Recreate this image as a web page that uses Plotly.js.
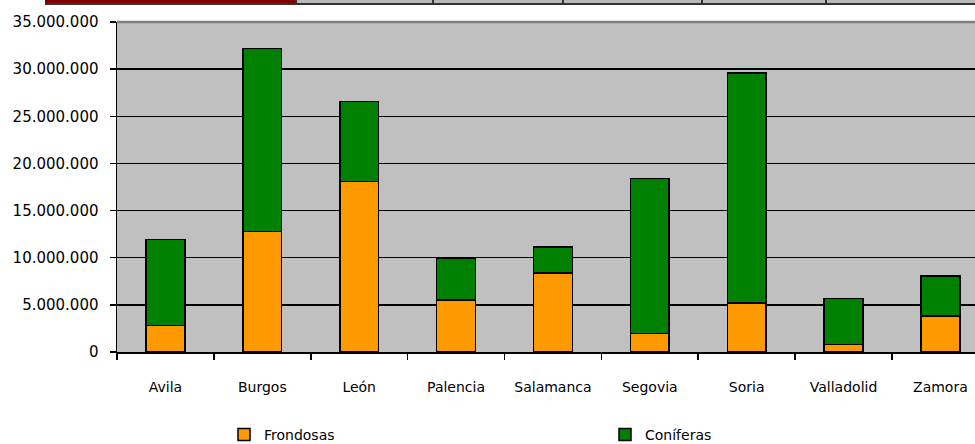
<!DOCTYPE html>
<html>
<head>
<meta charset="utf-8">
<script src="https://cdn.plot.ly/plotly-3.0.1.min.js"></script>
<style>html,body{margin:0;padding:0;background:#fff;}#chart{width:975px;height:444px;}</style>
</head>
<body>
<div id="chart"></div>
<script>
// ---- data ----
const provincias = ["Avila", "Burgos", "León", "Palencia", "Salamanca", "Segovia", "Soria", "Valladolid", "Zamora"];
const frondosas = [2790000, 12800000, 18100000, 5510000, 8400000, 1940000, 5200000, 770000, 3820000];
const coniferas = [9160000, 19370000, 8490000, 4430000, 2740000, 16480000, 24400000, 4920000, 4240000];
const yTicks = [0, 5000000, 10000000, 15000000, 20000000, 25000000, 30000000, 35000000];

// ---- layout helpers (pixel -> paper) ----
const W = 975, H = 444, ML = 117, MR = 0, MT = 22, MB = 92;
const PW = W - ML - MR, PH = H - MT - MB;
const xp = px => (px - ML) / PW;
const yp = py => (H - MB - py) / PH;

const font = "DejaVu Sans, Verdana, sans-serif";

const traces = [
  {type: "bar", name: "Frondosas", x: provincias, y: frondosas, legend: "legend",
   marker: {color: "#FF9900", line: {color: "#000000", width: 1.5}}},
  {type: "bar", name: "Coníferas", x: provincias, y: coniferas, legend: "legend2",
   marker: {color: "#008000", line: {color: "#000000", width: 1.5}}}
];

const shapes = [
  // top strip remnants
  {type: "rect", xref: "paper", yref: "paper", x0: xp(45), x1: xp(296), y0: yp(3.5), y1: yp(0), fillcolor: "#800000", line: {width: 0}},
  {type: "rect", xref: "paper", yref: "paper", x0: xp(296), x1: xp(975), y0: yp(3.5), y1: yp(0), fillcolor: "#B8B8B8", line: {width: 0}},
  {type: "line", xref: "paper", yref: "paper", x0: xp(45), x1: xp(975), y0: yp(4), y1: yp(4), line: {color: "#333333", width: 2}},
  // plot top border
  {type: "line", xref: "paper", yref: "paper", x0: 0, x1: 1, y0: 1, y1: 1, line: {color: "#808080", width: 2.5}}
];
[296, 433, 563, 702, 826].forEach(px => shapes.push(
  {type: "line", xref: "paper", yref: "paper", x0: xp(px), x1: xp(px), y0: yp(4), y1: yp(0), line: {color: "#333333", width: 2}}));

const legendBase = {
  orientation: "h",
  xanchor: "left",
  yanchor: "middle",
  y: yp(435),
  bgcolor: "rgba(0,0,0,0)",
  font: {family: font, size: 14, color: "#000000"}
};

const layout = {
  width: W, height: H,
  margin: {l: ML, r: MR, t: MT, b: MB, pad: 0, autoexpand: false},
  paper_bgcolor: "#FFFFFF",
  plot_bgcolor: "#C0C0C0",
  separators: ",.",
  barmode: "stack",
  bargap: 0.6,
  showlegend: true,
  font: {family: font, size: 14, color: "#000000"},
  xaxis: {
    type: "category",
    range: [-0.5, 8.357],
    automargin: false,
    showline: true, linecolor: "#000000", linewidth: 1.5,
    ticks: "outside", ticklen: 6, tickcolor: "#000000", tickwidth: 1.5,
    tickson: "boundaries",
    showgrid: false, zeroline: false,
    ticklabelstandoff: 22,
    tickfont: {family: font, size: 14, color: "#000000"}
  },
  yaxis: {
    range: [0, 35000000],
    automargin: false,
    tickvals: yTicks,
    tickformat: ",d",
    showline: true, linecolor: "#000000", linewidth: 1.5,
    ticks: "outside", ticklen: 6, tickcolor: "#000000", tickwidth: 1.5,
    showgrid: true, gridcolor: "#000000", gridwidth: 1.5,
    zeroline: false,
    ticklabelstandoff: 8,
    tickfont: {family: font, size: 15, color: "#000000"}
  },
  legend: Object.assign({}, legendBase, {x: xp(224)}),
  legend2: Object.assign({}, legendBase, {x: xp(605)}),
  shapes: shapes
};

Plotly.newPlot("chart", traces, layout, {displayModeBar: false, staticPlot: true});
</script>
</body>
</html>
